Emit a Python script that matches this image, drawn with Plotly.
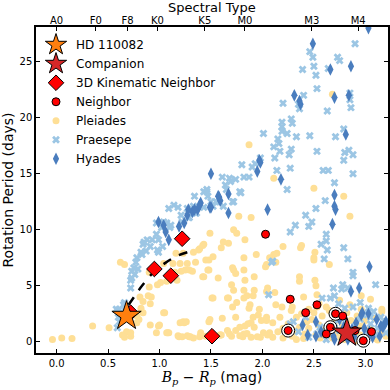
import plotly.graph_objects as go

# Pleiades (Bp-Rp, period)
pleiades_bprp = [
    -0.04, 0.05, 0.15, 0.35, 0.51, 0.62, 0.66, 0.64, 0.68, 0.72, 0.66,
    0.81, 0.82, 0.78, 0.84, 0.90, 0.92, 0.91, 0.90, 1.00, 0.97, 0.78, 0.80,
    1.16, 1.23, 1.33, 1.42, 1.39, 1.20, 1.25, 1.32, 1.27, 1.04, 1.13, 1.01, 1.07, 0.98, 1.17,
    0.89, 0.84, 1.04, 0.91, 0.99, 1.08, 1.20, 1.24, 1.18, 1.27, 1.33, 1.42, 1.45, 1.48, 1.45, 0.72,
    1.49, 1.72, 1.77, 1.89, 1.60, 1.67, 1.62, 1.83, 1.75, 1.43, 1.38, 1.35, 1.48, 1.52, 1.29, 1.21,
    1.15, 1.48, 1.72, 1.74, 1.82, 1.94, 2.04, 2.11, 1.57, 1.70, 1.83, 1.92, 1.85, 2.04, 1.67, 1.75,
    1.71, 1.87, 1.97, 1.52, 1.05, 1.49, 1.23, 1.26, 1.09, 1.19, 1.29, 1.39, 1.60, 1.70, 1.78, 1.83,
    1.89, 1.91, 1.99, 2.04, 2.01, 1.95, 2.07, 1.81, 2.10, 2.12,
    2.11, 2.68, 1.87, 2.50, 2.79, 2.85,
    2.20, 2.37, 2.51, 2.07, 2.13, 2.50, 2.03, 1.47, 1.71, 1.82, 1.43, 1.92, 2.36, 2.36, 2.51, 2.05,
    1.72, 1.82, 1.51, 1.66, 1.82, 1.88, 1.91, 2.13, 2.19, 2.29, 2.40, 2.53, 2.55, 2.52, 3.05, 2.96,
    3.16, 2.17, 2.04, 1.96, 1.74, 1.61, 1.86, 1.92, 1.74, 1.82, 1.89, 1.98, 2.10, 2.36, 2.33, 2.43,
    2.50, 2.53, 2.56, 2.62, 2.76, 2.92, 3.09, 3.20, 1.40, 1.59, 1.66,
    2.14, 2.38, 2.50, 2.65, 2.75, 2.96, 3.16,
    1.07, 1.22, 1.30, 1.40, 1.59, 1.68, 1.78, 1.85, 2.05, 2.20, 2.29, 2.41, 2.56, 2.68, 2.84, 3.00, 3.10,
    2.25, 2.30, 2.38, 2.45, 2.48, 2.55, 2.58, 2.60, 2.65, 2.70, 2.72, 2.75, 2.78, 2.82, 2.86, 2.88,
    2.92, 2.95, 3.00, 3.05, 3.10, 3.15, 3.18, 2.40, 2.52, 2.66, 2.80, 2.95, 3.12, 2.20, 2.15, 2.28,
    2.62, 2.85, 2.69, 2.33, 2.45,
]
pleiades_prot = [
    0.2, 0.35, 0.3, 1.4, 1.25, 7.1, 6.9, 0.6, 0.9, 0.5, 0.4,
    4.0, 3.0, 2.3, 2.6, 4.9, 4.0, 3.4, 6.2, 1.5, 0.8, 1.7, 2.0,
    7.9, 7.9, 8.0, 8.6, 8.3, 7.0, 6.4, 6.3, 7.0, 7.0, 7.0, 5.3, 5.4, 5.1, 5.5,
    4.1, 3.6, 2.6, 1.5, 1.4, 0.8, 1.7, 1.7, 0.55, 0.55, 0.35, 5.8, 7.3, 1.8, 0.5, 0.8,
    9.7, 10.0, 11.2, 11.1, 8.4, 8.8, 8.9, 9.1, 9.7, 8.7, 8.2, 7.1, 7.3, 7.6, 6.4, 6.3,
    6.2, 6.4, 6.4, 6.1, 7.5, 7.8, 6.9, 7.8, 5.7, 5.1, 5.5, 4.6, 4.1, 4.5, 3.9, 3.5,
    3.1, 3.0, 2.9, 3.9, 2.6, 2.0, 1.8, 1.8, 0.8, 0.45, 0.45, 0.45, 0.6, 0.5, 1.3, 1.4,
    1.7, 2.2, 1.9, 1.9, 0.8, 0.45, 0.8, 0.45, 1.7, 4.4,
    14.6, 22.1, 17.6, 13.7, 13.0, 11.2,
    8.5, 8.4, 8.0, 7.5, 7.1, 7.5, 6.7, 6.4, 6.6, 6.4, 5.8, 5.8, 5.8, 5.4, 5.5, 4.8,
    4.6, 4.6, 3.9, 3.9, 3.9, 3.3, 4.1, 3.3, 3.1, 3.1, 4.0, 4.2, 3.4, 5.0, 3.8, 4.1,
    2.9, 2.2, 2.2, 2.4, 2.2, 2.1, 1.6, 1.3, 1.0, 0.7, 0.4, 0.4, 0.4, 1.3, 2.2, 1.8,
    2.6, 3.1, 0.4, 0.5, 0.4, 0.1, 0.4, 0.5, 0.8, 0.6, 1.0,
    7.9, 8.6, 7.3, 6.9, 3.7, 2.9, 2.7,
    0.8, 0.45, 0.45, 0.6, 0.6, 0.7, 0.55, 0.75, 0.6, 0.35, 0.5, 0.7, 0.35, 0.35, 0.5, 0.35, 0.3,
    1.6, 1.0, 2.5, 1.2, 2.0, 1.5, 2.3, 1.0, 2.8, 1.8, 0.8, 2.2, 1.5, 2.6, 1.9, 0.9,
    2.3, 1.4, 1.9, 1.2, 2.1, 0.9, 1.6, 0.3, 0.6, 0.6, 0.2, 0.6, 0.15, 1.2, 0.9, 2.8,
    3.1, 3.3, 2.4, 0.2, 2.9,
]

# Praesepe
praesepe_bprp = [
    2.90, 2.46, 2.49, 2.73, 2.75, 2.39, 2.50, 2.52, 2.64, 2.53, 2.40, 2.20, 2.36, 2.35, 2.85, 2.85,
    2.86, 2.63, 2.19, 2.19, 2.19, 2.28, 2.29, 2.24, 2.33, 2.46, 2.71, 2.79, 2.15, 2.16, 2.28, 2.17,
    2.26, 2.53, 2.84, 2.80, 2.88, 2.79, 2.27, 2.14, 2.59, 2.64, 2.88, 2.70, 2.24,
    2.01, 2.11, 2.12, 1.80, 1.90, 1.93, 1.98, 1.61, 1.68, 1.74, 1.82, 1.87, 1.46, 1.65, 1.64, 1.69,
    1.79, 1.50, 1.55, 1.62, 1.71, 2.42, 2.52, 2.61, 2.32, 2.27, 2.45, 2.48, 2.62, 2.62, 2.57, 2.63,
    2.79, 2.83, 2.60, 2.10, 2.06, 2.88, 2.88, 2.78, 2.77, 2.69, 2.83, 2.70, 2.88, 3.10, 2.58, 2.66,
    2.30, 2.27, 2.68, 2.70, 2.73, 2.80, 3.03, 3.05, 3.15, 2.56, 2.53, 2.45, 2.09,
    1.14, 1.09, 1.27, 1.35, 1.43, 1.47, 1.28, 1.22, 1.33, 1.04, 1.11, 0.97, 0.93, 0.88, 0.84, 0.91,
    0.98, 1.03, 0.99, 0.82, 0.78, 0.77, 0.75, 0.73, 0.79, 0.72, 0.72, 0.65, 0.67, 0.60, 0.59, 0.61,
    0.58, 0.97, 0.85, 0.87, 0.83, 0.76, 0.73, 0.66, 0.61, 1.34, 1.46, 1.58, 1.52, 1.72, 1.78, 1.43,
    1.36, 1.29, 1.21, 1.18, 1.07, 1.02, 1.10, 0.99,
    2.75, 2.80, 2.85, 2.90, 2.95, 3.00, 3.05, 3.10, 3.12, 3.18, 3.20, 2.92, 2.98, 2.78, 2.62, 2.35,
    2.42, 3.08, 2.95, 2.74,
]
praesepe_prot = [
    26.6, 25.9, 25.4, 25.4, 25.1, 24.3, 24.6, 23.8, 24.4, 22.6, 22.0, 21.3, 20.8, 21.2, 22.2, 21.6,
    20.9, 20.6, 19.6, 19.2, 18.8, 19.9, 19.5, 18.6, 18.3, 18.4, 18.3, 19.0, 18.1, 17.7, 17.2, 17.0,
    16.7, 17.0, 17.1, 16.9, 16.7, 16.2, 15.5, 15.3, 15.3, 15.3, 15.0, 14.2, 13.6,
    18.6, 17.4, 16.4, 15.8, 15.6, 15.9, 16.4, 14.7, 14.6, 14.5, 14.7, 14.7, 13.6, 13.6, 14.0, 14.3,
    13.3, 12.5, 12.5, 12.1, 12.5, 11.3, 11.9, 12.6, 10.4, 9.8, 10.3, 10.7, 9.6, 9.0, 8.7, 8.2,
    8.4, 7.4, 7.4, 7.2, 4.2, 6.2, 5.9, 5.1, 4.7, 4.8, 4.8, 4.1, 3.1, 5.1, 3.9, 3.9,
    1.8, 1.6, 1.3, 1.6, 2.4, 3.0, 3.0, 2.2, 2.2, 1.3, 0.7, 0.4, 7.1,
    12.2, 11.9, 11.9, 11.5, 13.4, 13.0, 11.1, 10.7, 12.1, 10.7, 10.4, 9.6, 9.1, 9.1, 8.7, 8.5,
    8.2, 8.5, 9.1, 8.0, 7.5, 7.1, 6.6, 6.3, 6.5, 5.5, 4.8, 3.3, 3.1, 2.2, 1.25, 1.8,
    2.9, 10.6, 8.9, 8.1, 7.8, 6.0, 5.7, 3.5, 2.9, 13.0, 13.4, 12.5, 12.1, 12.5, 13.4, 12.0,
    11.5, 11.1, 11.3, 12.0, 10.6, 10.2, 10.2, 8.0,
    1.0, 1.8, 0.6, 1.4, 2.0, 0.8, 1.6, 0.6, 1.2, 1.9, 0.8, 0.3, 2.4, 2.3, 0.2, 0.9,
    2.2, 2.7, 3.5, 3.4,
]

# Hyades
hyades_bprp = [
    2.49, 3.03, 2.66, 2.86, 2.31, 2.36, 2.37, 2.70, 2.84, 2.81, 2.18, 1.97, 1.98, 1.95, 1.50, 1.58,
    1.59, 1.67, 1.50, 1.67, 2.05, 2.70, 2.70, 2.71, 2.68, 3.04, 2.86, 2.94, 2.52, 2.44, 2.69, 2.97,
    3.03, 2.87, 3.15, 3.19,
    0.99, 1.04, 1.06, 1.09, 1.19, 1.24, 1.27, 1.32, 1.37, 1.40, 1.57, 1.39, 1.34, 1.28, 1.49,
    2.39, 2.52, 2.96, 3.11, 3.20, 3.17, 3.14, 3.07, 2.79, 2.91, 2.83, 2.57, 2.70, 3.04, 2.89, 2.75, 2.99,
]
hyades_prot = [
    26.6, 28.0, 24.3, 24.6, 22.0, 21.5, 21.2, 21.8, 22.0, 18.5, 14.5, 16.2, 16.0, 15.2, 15.0, 12.9,
    12.6, 13.2, 12.0, 11.5, 11.8, 13.1, 12.1, 11.8, 10.5, 6.7, 4.5, 4.8, 1.8, 0.6, 0.5, 2.6,
    2.5, 1.1, 1.4, 1.6,
    10.7, 10.4, 9.8, 9.1, 10.3, 10.6, 11.3, 11.6, 11.8, 12.4, 13.0, 12.2, 11.8, 11.8, 12.0,
    1.5, 0.5, 2.4, 2.0, 1.8, 1.3, 0.5, 0.4, 1.3, 1.7, 0.2, 0.9, 0.2, 0.9, 0.5, 2.0, 1.2,
]

neighbor_bprp = [2.03, 2.27, 2.42, 2.53, 2.71, 2.78, 2.25, 2.66, 2.62, 2.90, 3.06, 2.98]
neighbor_prot = [9.6, 3.8, 2.6, 3.3, 2.5, 2.3, 1.0, 1.3, 0.7, 1.0, 0.9, 0.1]
ringed_bprp = [2.71, 2.25, 2.66, 2.98]
ringed_prot = [2.5, 1.0, 1.3, 0.1]

kinematic_bprp = [0.72, 0.95, 1.11, 1.22, 1.51]
kinematic_prot = [2.6, 6.5, 5.9, 9.2, 0.5]

host_bprp = [0.68]
host_prot = [2.3]
companion_bprp = [2.82]
companion_prot = [0.8]

curve_bprp = [0.70, 0.76, 0.83, 0.94, 1.05, 1.18, 1.35]
curve_prot = [3.3, 4.1, 5.0, 6.2, 7.0, 7.7, 8.2]

spt_pos = [0.0, 0.38, 0.69, 0.98, 1.44, 1.83, 2.48, 2.93]
spt_labels = ["A0", "F0", "F8", "K0", "K5", "M0", "M3", "M4"]

font = "DejaVu Sans"

fig = go.Figure()
fig.add_trace(go.Scatter(x=pleiades_bprp, y=pleiades_prot, mode="markers", name="Pleiades",
                         marker=dict(symbol="circle", size=7, color="#fedf96"), legendrank=5))
fig.add_trace(go.Scatter(x=praesepe_bprp, y=praesepe_prot, mode="markers", name="Praesepe",
                         marker=dict(symbol="x", size=7, color="#9cc6e4"), legendrank=6))
fig.add_trace(go.Scatter(x=hyades_bprp, y=hyades_prot, mode="markers", name="Hyades",
                         marker=dict(symbol="diamond-tall", size=9, color="#4a7dbe"), legendrank=7))
fig.add_trace(go.Scatter(x=curve_bprp, y=curve_prot, mode="lines", showlegend=False,
                         line=dict(color="black", width=2.5, dash="dash", shape="spline")))
fig.add_trace(go.Scatter(x=ringed_bprp, y=ringed_prot, mode="markers", showlegend=False,
                         marker=dict(symbol="circle", size=13, color="white",
                                     line=dict(color="black", width=1))))
fig.add_trace(go.Scatter(x=neighbor_bprp, y=neighbor_prot, mode="markers", name="Neighbor",
                         marker=dict(symbol="circle", size=8, color="#ff0000",
                                     line=dict(color="black", width=1)), legendrank=4))
fig.add_trace(go.Scatter(x=kinematic_bprp, y=kinematic_prot, mode="markers", name="3D Kinematic Neighbor",
                         marker=dict(symbol="diamond", size=12, color="#ff0000",
                                     line=dict(color="black", width=1)), legendrank=3))
fig.add_trace(go.Scatter(x=companion_bprp, y=companion_prot, mode="markers", name="Companion",
                         marker=dict(symbol="star", size=22, color="#d62728",
                                     line=dict(color="black", width=1)), legendrank=2))
fig.add_trace(go.Scatter(x=host_bprp, y=host_prot, mode="markers", name="HD 110082",
                         marker=dict(symbol="star", size=22, color="#ff7f0e",
                                     line=dict(color="black", width=1)), legendrank=1))
fig.add_trace(go.Scatter(x=[], y=[], xaxis="x2", showlegend=False))

axis_common = dict(showline=True, linecolor="black", linewidth=1.5, ticks="inside", ticklen=4,
                   tickcolor="black", showgrid=False, zeroline=False, automargin=False,
                   tickfont=dict(family=font, size=10, color="black"))

fig.update_layout(
    width=390, height=390,
    margin=dict(l=36, r=2, t=27, b=37),
    plot_bgcolor="white", paper_bgcolor="white",
    font=dict(family=font, color="black"),
    showlegend=True,
    legend=dict(x=0.0, y=0.99, xanchor="left", yanchor="top", bgcolor="rgba(0,0,0,0)",
                font=dict(family=font, size=12), tracegroupgap=0),
    xaxis=dict(range=[-0.2, 3.22], tickvals=[0, 0.5, 1.0, 1.5, 2.0, 2.5, 3.0],
               ticktext=["0.0", "0.5", "1.0", "1.5", "2.0", "2.5", "3.0"], mirror=True,
               title=dict(text='<span style="font-family:DejaVu Serif"><i>B<sub>p</sub></i> \u2212 '
                               '<i>R<sub>p</sub></i></span> (mag)',
                          font=dict(family=font, size=14), standoff=2),
               **axis_common),
    xaxis2=dict(range=[-0.2, 3.22], overlaying="x", side="top", anchor="y", tickvals=spt_pos,
                ticktext=spt_labels, showline=False, ticks="inside", ticklen=4, tickcolor="black",
                showgrid=False, zeroline=False, automargin=False,
                tickfont=dict(family=font, size=10, color="black")),
    yaxis=dict(range=[-1, 28.1], tickvals=[0, 5, 10, 15, 20, 25], mirror="ticks",
               title=dict(text="Rotation Period (days)", font=dict(family=font, size=14), standoff=4),
               **axis_common),
    annotations=[dict(text="Spectral Type", x=0.5, y=1, xref="paper", yref="paper",
                      xanchor="center", yanchor="bottom", yshift=10, showarrow=False,
                      font=dict(family=font, size=13))],
)

# drop the default 8px page margin so the figure sits flush in the window
fig.write_html("out.html", config={"displayModeBar": False},
               post_script="document.body.style.margin = '0';")
